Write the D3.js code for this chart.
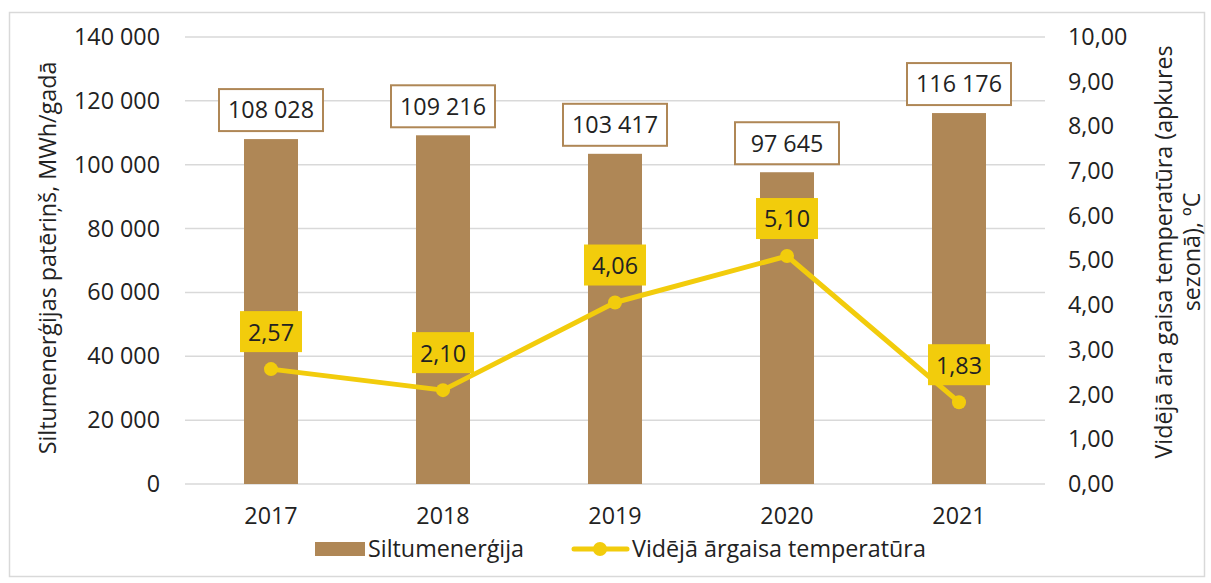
<!DOCTYPE html>
<html>
<head>
<meta charset="utf-8">
<script src="https://cdn.jsdelivr.net/npm/d3@7"></script>
<style>
  body { margin: 0; background: #fff; }
  text { font-family: "Open Sans", sans-serif; fill: #222; }
</style>
</head>
<body>
<div class="chart"></div>
<script>
const years = ["2017", "2018", "2019", "2020", "2021"]
const heat = [108028, 109216, 103417, 97645, 116176]
const temp = [2.57, 2.10, 4.06, 5.10, 1.83]
const leftTicks = [0, 20000, 40000, 60000, 80000, 100000, 120000, 140000]
const rightTicks = [0, 1, 2, 3, 4, 5, 6, 7, 8, 9, 10]

const W = 1211, H = 583
const margin = ({top: 37, right: 166, bottom: 99, left: 185})
const width = W - margin.left - margin.right,
  height = H - margin.top - margin.bottom

const barColor = "#AF8756"
const lineColor = "#F2CC0C"
const fs = 23.3

const fmtThousands = d => d3.format(",")(d).replace(/,/g, " ")
const fmtComma = d => d3.format(".2f")(d).replace(".", ",")

const root = d3.select(".chart").append("svg")
  .attr("width", W)
  .attr("height", H)

// outer frame
root.append("rect")
  .attr("x", 9.5).attr("y", 12.5)
  .attr("width", 1195).attr("height", 564)
  .attr("fill", "none")
  .attr("stroke", "#d9d9d9")
  .attr("stroke-width", 1.5)

const svg = root.append("g")
  .attr("transform", "translate(" + margin.left + "," + margin.top + ")")

const x = d3.scaleBand()
  .domain(years)
  .range([0, width])
  .paddingInner(0.686)
  .paddingOuter(0.343)

const yL = d3.scaleLinear().domain([0, 140000]).range([height, 0])
const yR = d3.scaleLinear().domain([0, 10]).range([height, 0])

// gridlines
svg.append("g")
  .selectAll("line")
  .data(leftTicks)
  .enter()
  .append("line")
  .attr("x1", 0).attr("x2", width)
  .attr("y1", d => yL(d)).attr("y2", d => yL(d))
  .attr("stroke", "#d9d9d9")
  .attr("stroke-width", 1.5)

// left axis
const yAxisL = d3.axisLeft(yL).tickValues(leftTicks).tickFormat(fmtThousands).tickSize(0).tickPadding(25)
const gL = svg.append("g").call(yAxisL)
gL.select(".domain").remove()
gL.selectAll("text").attr("font-size", fs).attr("fill", "#222").attr("font-family", "Open Sans")

// right axis
const yAxisR = d3.axisRight(yR).tickValues(rightTicks).tickFormat(fmtComma).tickSize(0).tickPadding(23)
const gR = svg.append("g").attr("transform", `translate(${width},0)`).call(yAxisR)
gR.select(".domain").remove()
gR.selectAll("text").attr("font-size", fs).attr("fill", "#222").attr("font-family", "Open Sans")

// x axis
const xAxis = d3.axisBottom(x).tickSize(0).tickPadding(23)
const gX = svg.append("g").attr("transform", `translate(0,${height})`).call(xAxis)
gX.select(".domain").remove()
gX.selectAll("text").attr("font-size", fs).attr("fill", "#222").attr("font-family", "Open Sans")

// bars
svg.append("g")
  .selectAll("rect")
  .data(heat)
  .enter()
  .append("rect")
  .attr("x", (d, i) => x(years[i]))
  .attr("y", d => yL(d))
  .attr("width", x.bandwidth())
  .attr("height", d => height - yL(d))
  .attr("fill", barColor)

// bar labels
const barLab = svg.append("g")
  .selectAll("g")
  .data(heat)
  .enter()
  .append("g")
  .attr("transform", (d, i) => `translate(${x(years[i]) + x.bandwidth() / 2},${yL(d) - 29})`)

barLab.append("rect")
  .attr("x", -52).attr("y", -21)
  .attr("width", 104).attr("height", 42)
  .attr("fill", "#fff")
  .attr("stroke", barColor)
  .attr("stroke-width", 2)

barLab.append("text")
  .attr("text-anchor", "middle")
  .attr("dy", "0.36em")
  .attr("font-size", fs)
  .text(d => fmtThousands(d))

// line
const cx = (d, i) => x(years[i]) + x.bandwidth() / 2
const line = d3.line()
  .x((d, i) => cx(d, i))
  .y(d => yR(d))

svg.append("path")
  .datum(temp)
  .attr("d", line)
  .attr("fill", "none")
  .attr("stroke", lineColor)
  .attr("stroke-width", 5)
  .attr("stroke-linejoin", "round")

svg.append("g")
  .selectAll("circle")
  .data(temp)
  .enter()
  .append("circle")
  .attr("cx", cx)
  .attr("cy", d => yR(d))
  .attr("r", 7)
  .attr("fill", lineColor)

// line labels
const lineLab = svg.append("g")
  .selectAll("g")
  .data(temp)
  .enter()
  .append("g")
  .attr("transform", (d, i) => `translate(${cx(d, i)},${yR(d) - 37})`)

lineLab.append("rect")
  .attr("x", -31).attr("y", -21)
  .attr("width", 62).attr("height", 41)
  .attr("fill", lineColor)

lineLab.append("text")
  .attr("text-anchor", "middle")
  .attr("dy", "0.36em")
  .attr("font-size", fs)
  .attr("fill", "#1a1a1a")
  .text(d => fmtComma(d))

// axis titles
root.append("text")
  .attr("transform", "translate(56,258) rotate(-90)")
  .attr("text-anchor", "middle")
  .attr("font-size", fs)
  .text("Siltumenerģijas patēriņš, MWh/gadā")

const rt = root.append("text")
  .attr("transform", "translate(1172,252) rotate(-90)")
  .attr("text-anchor", "middle")
  .attr("font-size", fs)
rt.append("tspan").attr("x", 0).attr("dy", 0).text("Vidējā āra gaisa temperatūra (apkures")
rt.append("tspan").attr("x", 0).attr("dy", 28).text("sezonā), ºC")

// legend
const leg = root.append("g").attr("transform", "translate(0,549)")
leg.append("rect")
  .attr("x", 315).attr("y", -7)
  .attr("width", 50).attr("height", 14)
  .attr("fill", barColor)
leg.append("text")
  .attr("x", 368).attr("dy", "0.36em")
  .attr("font-size", fs)
  .text("Siltumenerģija")
leg.append("line")
  .attr("x1", 574).attr("x2", 627)
  .attr("stroke", lineColor)
  .attr("stroke-width", 5)
  .attr("stroke-linecap", "round")
leg.append("circle")
  .attr("cx", 600).attr("r", 7)
  .attr("fill", lineColor)
leg.append("text")
  .attr("x", 632).attr("dy", "0.36em")
  .attr("font-size", fs)
  .text("Vidējā ārgaisa temperatūra")
</script>
</body>
</html>
